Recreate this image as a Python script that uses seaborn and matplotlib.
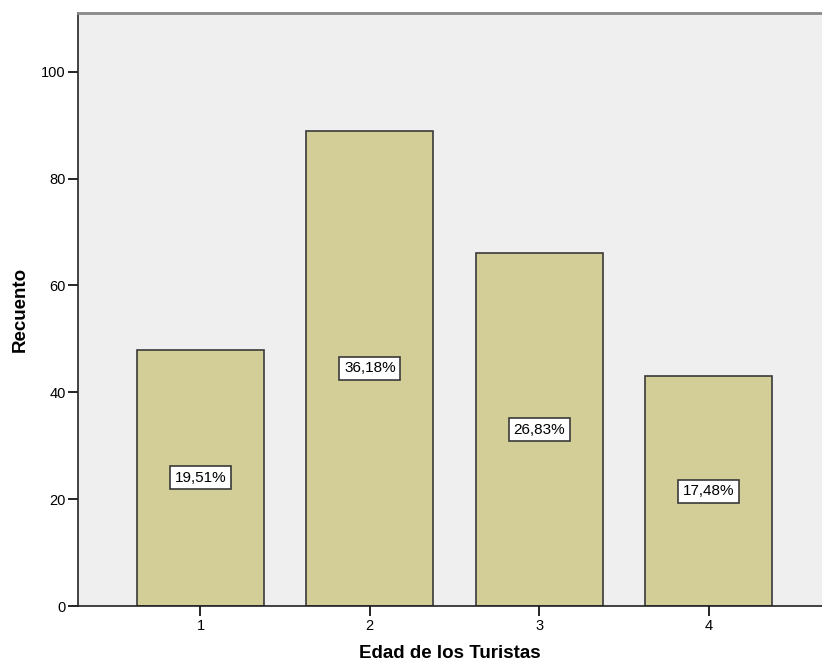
import matplotlib
matplotlib.use("Agg")
import matplotlib.pyplot as plt
import seaborn as sns
import pandas as pd

categories = ["1", "2", "3", "4"]
counts = [48, 89, 66, 43]
pct_labels = ["19,51%", "36,18%", "26,83%", "17,48%"]
y_ticks = [0, 20, 40, 60, 80, 100]

sns.set_style("white")
plt.rcParams['font.family'] = ['Liberation Sans', 'DejaVu Sans']
plt.rcParams['text.color'] = 'black'
plt.rcParams['axes.labelcolor'] = 'black'
plt.rcParams['xtick.color'] = 'black'
plt.rcParams['ytick.color'] = 'black'

df = pd.DataFrame({"Edad": categories, "Recuento": counts})

fig = plt.figure(figsize=(8.22, 6.64), dpi=100)
ax = fig.add_axes([78 / 822, 1 - 606 / 664, 1 - 78 / 822, (606 - 12.5) / 664])
ax.set_facecolor("#EFEFEF")

sns.barplot(data=df, x="Edad", y="Recuento", color="#D3CE97", saturation=1,
            width=0.75, edgecolor="#3A3A3A", linewidth=1.2, ax=ax)

ax.bar_label(ax.containers[0], labels=pct_labels, label_type="center",
             fontsize=11, color="black",
             bbox=dict(boxstyle="square,pad=0.3", facecolor="white",
                       edgecolor="#3A3A3A", linewidth=1.2))

ax.set_xlim(-0.723, 3.67)
ax.set_ylim(0, 111.1)
ax.set_yticks(y_ticks)
ax.set_yticklabels([str(v) for v in y_ticks])

ax.tick_params(axis="both", which="both", direction="out", length=7, width=1.2,
               color="black", labelcolor="black", labelsize=10.5, pad=2,
               left=True, bottom=True)

for side in ["left", "bottom"]:
    ax.spines[side].set_color("#222222")
    ax.spines[side].set_linewidth(1.2)
ax.spines["top"].set_color("#888888")
ax.spines["top"].set_linewidth(2)
ax.spines["right"].set_visible(False)

ax.set_xlabel("Edad de los Turistas", fontsize=13.5, fontweight="bold",
              labelpad=9, color="black")
ax.set_ylabel("Recuento", fontsize=13.5, fontweight="bold", labelpad=9,
              color="black")

fig.savefig("out.png", dpi=100)
